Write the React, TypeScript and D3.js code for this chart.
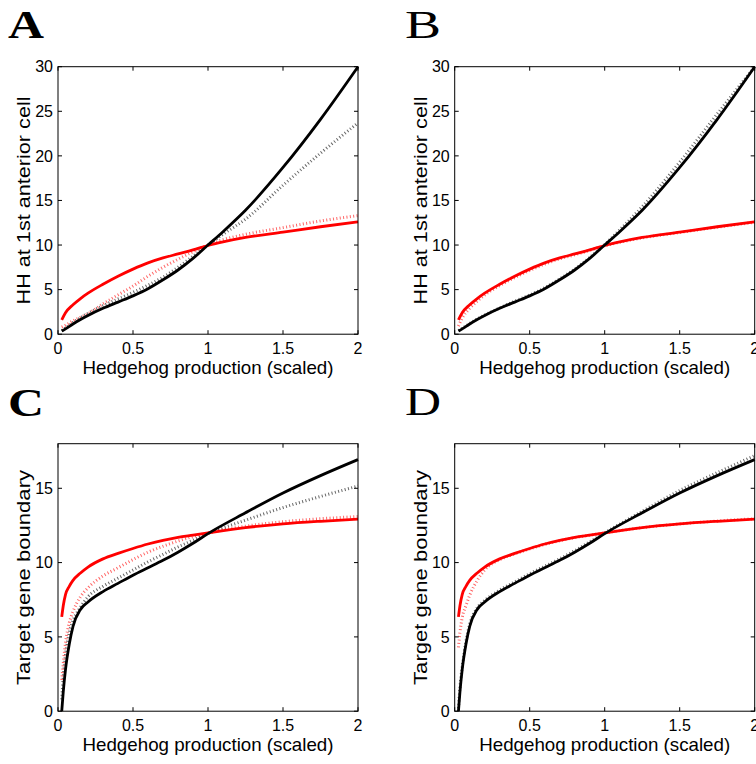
import * as d3 from 'd3'

// x positions (Hedgehog production, scaled)
const hhX = [0.025, 0.05, 0.1, 0.15, 0.2, 0.3, 0.4, 0.5, 0.6, 0.7, 0.8, 0.9, 1.0, 1.1, 1.25, 1.5, 1.75, 2.0]
const tgX = [0.025, 0.035, 0.05, 0.075, 0.1, 0.15, 0.2, 0.3, 0.4, 0.5, 0.6, 0.7, 0.8, 0.9, 1.0, 1.25, 1.5, 1.75, 2.0]

// HH at 1st anterior cell (panels A, B)
const hhBlackSolid = [0.35, 0.6, 1.15, 1.65, 2.1, 2.9, 3.6, 4.3, 5.1, 6.1, 7.2, 8.5, 10.0, 11.5, 13.9, 18.7, 24.1, 30.0]
const hhRedSolid = [1.6, 2.4, 3.3, 4.0, 4.6, 5.6, 6.5, 7.3, 8.0, 8.55, 9.0, 9.45, 9.95, 10.35, 10.85, 11.45, 12.05, 12.6]
const hhBlackDottedA = [0.4, 0.7, 1.3, 1.85, 2.35, 3.2, 3.95, 4.7, 5.5, 6.4, 7.5, 8.75, 10.0, 11.2, 12.9, 16.7, 20.3, 23.7]
const hhRedDottedA = [0.8, 1.0, 1.5, 1.9, 2.3, 3.4, 4.4, 5.4, 6.5, 7.5, 8.4, 9.25, 10.0, 10.6, 11.2, 11.95, 12.7, 13.3]
const hhBlackDottedB = [0.4, 0.65, 1.2, 1.7, 2.15, 2.95, 3.7, 4.4, 5.2, 6.2, 7.3, 8.6, 10.05, 11.7, 14.3, 19.3, 24.7, 30.0]
const hhRedDottedB = [0.9, 1.8, 2.9, 3.7, 4.4, 5.45, 6.35, 7.15, 7.85, 8.45, 8.9, 9.4, 9.9, 10.3, 10.8, 11.4, 12.0, 12.55]

// Target gene boundary (panels C, D)
const tgBlackSolid = [0.0, 1.3, 2.8, 4.5, 5.7, 6.85, 7.35, 8.05, 8.6, 9.15, 9.65, 10.15, 10.7, 11.3, 11.95, 13.35, 14.68, 15.85, 16.93]
const tgRedSolid = [6.35, 7.1, 7.85, 8.4, 8.8, 9.3, 9.7, 10.25, 10.62, 10.95, 11.25, 11.5, 11.7, 11.85, 12.0, 12.35, 12.6, 12.78, 12.93]
const tgBlackDottedC = [0.8, 2.3, 3.8, 5.3, 6.1, 7.0, 7.7, 8.4, 8.95, 9.5, 10.05, 10.55, 11.05, 11.5, 11.95, 12.85, 13.7, 14.45, 15.15]
const tgRedDottedC = [2.1, 3.2, 4.6, 5.95, 6.7, 7.7, 8.3, 9.1, 9.65, 10.2, 10.7, 11.1, 11.45, 11.75, 12.0, 12.45, 12.75, 12.95, 13.1]
const tgBlackDottedD = [0.2, 1.6, 3.0, 4.7, 5.85, 6.95, 7.45, 8.15, 8.7, 9.25, 9.75, 10.25, 10.8, 11.4, 12.0, 13.45, 14.85, 16.05, 17.2]
const tgRedDottedD = [4.3, 5.3, 6.3, 7.1, 7.8, 8.8, 9.5, 10.2, 10.58, 10.92, 11.22, 11.47, 11.68, 11.84, 12.0, 12.35, 12.6, 12.8, 12.95]

const xTicks = [0, 0.5, 1, 1.5, 2]
const hhTicks = [0, 5, 10, 15, 20, 25, 30]
const tgTicks = [0, 5, 10, 15]

const PW = 300
const PH = 267.5
const SANS = 'Liberation Sans, Arial, sans-serif'

type Series = { xs: number[]; ys: number[]; color: string; dotted: boolean }

function Panel(props: {
  left: number; top: number; letter: string; bold: boolean; letterX: number; letterY: number
  yMax: number; yTicks: number[]; yLabel: string; yLabelLen: number; series: Series[]
}) {
  const { left, top, letter, bold, letterX, letterY, yMax, yTicks, yLabel, yLabelLen, series } = props
  const x = d3.scaleLinear().domain([0, 2]).range([0, PW])
  const y = d3.scaleLinear().domain([0, yMax]).range([PH, 0])
  const line = d3.line<[number, number]>()
    .x(d => x(d[0]))
    .y(d => y(d[1]))
    .curve(d3.curveMonotoneX)
  const tl = 4

  return (
    <g>
      <text x={letterX} y={letterY} fontFamily="Liberation Serif, Times New Roman, serif"
        fontSize={41} fontWeight={bold ? 'bold' : 'normal'} textLength={36} lengthAdjust="spacingAndGlyphs">{letter}</text>
      <g transform={`translate(${left},${top})`}>
        {series.map((s, i) => (
          <path key={i} d={line(d3.zip(s.xs, s.ys) as [number, number][]) || ''} fill="none"
            stroke={s.color}
            strokeWidth={s.dotted ? 3 : 2.8}
            strokeDasharray={s.dotted ? '1 2.4' : undefined}
            strokeOpacity={s.dotted ? 0.6 : 1}
            strokeLinejoin="round" />
        ))}
        <rect x={0} y={0} width={PW} height={PH} fill="none" stroke="#000" strokeWidth={1} />
        {xTicks.map(t => (
          <g key={'x' + t}>
            <line x1={x(t)} x2={x(t)} y1={PH} y2={PH - tl} stroke="#000" />
            <line x1={x(t)} x2={x(t)} y1={0} y2={tl} stroke="#000" />
            <text x={x(t)} y={PH + 20} textAnchor="middle" fontFamily={SANS} fontSize={16}>{String(t)}</text>
          </g>
        ))}
        {yTicks.map(t => (
          <g key={'y' + t}>
            <line x1={0} x2={tl} y1={y(t)} y2={y(t)} stroke="#000" />
            <line x1={PW} x2={PW - tl} y1={y(t)} y2={y(t)} stroke="#000" />
            <text x={-5} y={y(t)} dy="0.36em" textAnchor="end" fontFamily={SANS} fontSize={16}>{String(t)}</text>
          </g>
        ))}
        <text x={PW / 2} y={PH + 40} textAnchor="middle" fontFamily={SANS} fontSize={18.5}
          textLength={251} lengthAdjust="spacingAndGlyphs">Hedgehog production (scaled)</text>
        <text transform={`translate(${-28},${PH / 2}) rotate(-90)`} textAnchor="middle" fontFamily={SANS}
          fontSize={18.5} textLength={yLabelLen} lengthAdjust="spacingAndGlyphs">{yLabel}</text>
      </g>
    </g>
  )
}

export default function App() {
  const panels = [
    {
      left: 58, top: 66.7, letter: 'A', bold: true, letterX: 8, letterY: 38,
      yMax: 30, yTicks: hhTicks, yLabel: 'HH at 1st anterior cell', yLabelLen: 208,
      series: [
        { xs: hhX, ys: hhRedDottedA, color: '#ff0000', dotted: true },
        { xs: hhX, ys: hhBlackDottedA, color: '#000000', dotted: true },
        { xs: hhX, ys: hhRedSolid, color: '#ff0000', dotted: false },
        { xs: hhX, ys: hhBlackSolid, color: '#000000', dotted: false },
      ],
    },
    {
      left: 454.7, top: 66.7, letter: 'B', bold: false, letterX: 405, letterY: 38,
      yMax: 30, yTicks: hhTicks, yLabel: 'HH at 1st anterior cell', yLabelLen: 208,
      series: [
        { xs: hhX, ys: hhRedDottedB, color: '#ff0000', dotted: true },
        { xs: hhX, ys: hhBlackDottedB, color: '#000000', dotted: true },
        { xs: hhX, ys: hhRedSolid, color: '#ff0000', dotted: false },
        { xs: hhX, ys: hhBlackSolid, color: '#000000', dotted: false },
      ],
    },
    {
      left: 58, top: 443.7, letter: 'C', bold: true, letterX: 8, letterY: 416,
      yMax: 18, yTicks: tgTicks, yLabel: 'Target gene boundary', yLabelLen: 215,
      series: [
        { xs: tgX, ys: tgRedDottedC, color: '#ff0000', dotted: true },
        { xs: tgX, ys: tgBlackDottedC, color: '#000000', dotted: true },
        { xs: tgX, ys: tgRedSolid, color: '#ff0000', dotted: false },
        { xs: tgX, ys: tgBlackSolid, color: '#000000', dotted: false },
      ],
    },
    {
      left: 454.7, top: 443.7, letter: 'D', bold: false, letterX: 405, letterY: 415,
      yMax: 18, yTicks: tgTicks, yLabel: 'Target gene boundary', yLabelLen: 215,
      series: [
        { xs: tgX, ys: tgRedDottedD, color: '#ff0000', dotted: true },
        { xs: tgX, ys: tgBlackDottedD, color: '#000000', dotted: true },
        { xs: tgX, ys: tgRedSolid, color: '#ff0000', dotted: false },
        { xs: tgX, ys: tgBlackSolid, color: '#000000', dotted: false },
      ],
    },
  ]

  return (
    <svg width={756} height={764} style={{ position: 'absolute', left: 0, top: 0, background: '#fff' }}>
      {panels.map(p => <Panel key={p.letter} {...p} />)}
    </svg>
  )
}
